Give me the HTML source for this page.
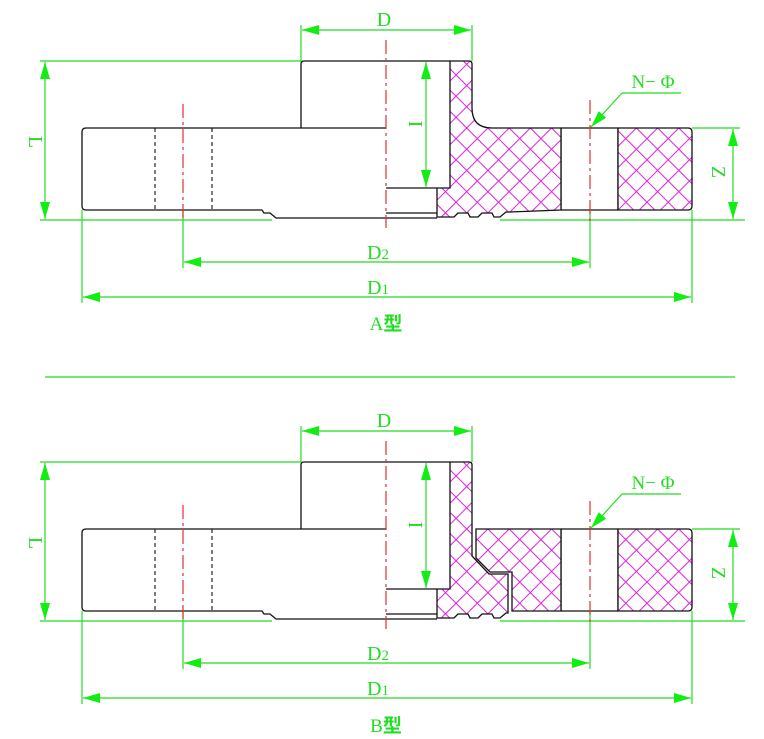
<!DOCTYPE html>
<html><head><meta charset="utf-8"><style>
html,body{margin:0;padding:0;background:#fff;}
svg{display:block;}
text{font-family:"Liberation Serif","Noto Serif CJK SC",serif;fill:#22dd22;}
</style></head><body>
<svg width="764" height="739" viewBox="0 0 764 739" xmlns="http://www.w3.org/2000/svg">
<defs>
<pattern id="h" width="15" height="15" patternUnits="userSpaceOnUse" patternTransform="rotate(45)">
<rect width="15" height="15" fill="#fff"/>
<line x1="0" y1="0" x2="15" y2="0" stroke="#e020e0" stroke-width="2"/>
<line x1="0" y1="0" x2="0" y2="15" stroke="#e020e0" stroke-width="2"/>
</pattern>
<marker id="a" viewBox="0 0 17 10" refX="17" refY="5" markerWidth="17" markerHeight="10" markerUnits="userSpaceOnUse" orient="auto-start-reverse">
<path d="M17,5 L0,0 L0,10 Z" fill="#11ee11"/>
</marker>
<g id="common">
<g stroke="#22dd22" stroke-width="1.2" fill="none">
<line x1="40" y1="61" x2="301" y2="61"/>
<line x1="40" y1="220" x2="272" y2="220"/>
<line x1="500" y1="220" x2="745" y2="220"/>
<line x1="692" y1="128" x2="740" y2="128"/>
<line x1="301" y1="25" x2="301" y2="61"/>
<line x1="472" y1="25" x2="472" y2="61"/>
<line x1="183" y1="210" x2="183" y2="268"/>
<line x1="590" y1="210" x2="590" y2="268"/>
<line x1="82" y1="210" x2="82" y2="303"/>
<line x1="692" y1="210" x2="692" y2="303"/>
<line x1="622" y1="93" x2="681" y2="93"/>
</g>
<g stroke="#22dd22" stroke-width="1.2" fill="none" marker-start="url(#a)" marker-end="url(#a)">
<line x1="45" y1="62" x2="45" y2="219"/>
<line x1="302" y1="30" x2="471" y2="30"/>
<line x1="426" y1="62" x2="426" y2="187"/>
<line x1="184" y1="262" x2="589" y2="262"/>
<line x1="83" y1="297" x2="691" y2="297"/>
<line x1="733" y1="129" x2="733" y2="219"/>
</g>
<line x1="622" y1="93" x2="591" y2="127" stroke="#22dd22" stroke-width="1.2" marker-end="url(#a)"/>
<g stroke="#111" stroke-width="1.3" fill="none">
<path d="M386,128 L86,128 Q82,128 82,132 L82,206 Q82,210 86,210 L262,210 L264,213 L270,213 L276,218 L437,218"/>
<path d="M301,128 L301,64 Q301,61 304,61 L450,61"/>
<path d="M386,213 L437,213"/>
<path d="M386,188 L437,188"/>
<line x1="561" y1="128" x2="561" y2="210"/>
<line x1="618" y1="128" x2="618" y2="210"/>
<line x1="561" y1="128" x2="618" y2="128"/>
<line x1="561" y1="210" x2="618" y2="210"/>
</g>
<path d="M618,128 L688,128 Q692,128 692,132 L692,206 Q692,210 688,210 L618,210 Z" fill="url(#h)" stroke="#111" stroke-width="1.3"/>
<g stroke="#111" stroke-width="1.1" stroke-dasharray="4,3">
<line x1="155" y1="128" x2="155" y2="210"/>
<line x1="212" y1="128" x2="212" y2="210"/>
</g>
<g stroke="#e03030" stroke-width="1.2" stroke-dasharray="14,4,3,4">
<line x1="183" y1="104" x2="183" y2="222"/>
<line x1="590" y1="100" x2="590" y2="222"/>
<line x1="386" y1="40" x2="386" y2="228"/>
</g>
<text x="384" y="26" font-size="20" text-anchor="middle">D</text>
<text x="378" y="259" font-size="20" text-anchor="middle">D<tspan font-size="15">2</tspan></text>
<text x="378" y="294" font-size="20" text-anchor="middle">D<tspan font-size="15">1</tspan></text>
<text x="653" y="88" font-size="19" text-anchor="middle">N− Φ</text>
<text font-size="20" text-anchor="middle" transform="translate(29,142) rotate(90)">L</text>
<text font-size="20" text-anchor="middle" transform="translate(409,124) rotate(90)">I</text>
<text font-size="20" text-anchor="middle" transform="translate(712,172) rotate(90)">Z</text>
</g>
</defs>

<use href="#common"/>
<path d="M450,61 L469,61 Q472,61 472,64 L472,108 Q472,128 492,128 L561,128 L561,210 L510,212 L506,212 L500,217 L494,217 L492,213 L482,213 L478,217 L470,217 L468,213 L458,213 L454,217 L437,217 L437,188 L450,188 Z" fill="url(#h)" stroke="#111" stroke-width="1.3"/>
<text x="386" y="330" font-size="19" text-anchor="middle">A<tspan font-family="Noto Sans CJK SC,sans-serif" font-weight="bold">型</tspan></text>

<line x1="45" y1="377" x2="735" y2="377" stroke="#22dd22" stroke-width="1.3"/>

<g transform="translate(0,401)">
<use href="#common"/>
<path d="M476,128 L561,128 L561,210 L512,210 L512,171 L490,171 L476,157 Z" fill="url(#h)" stroke="#111" stroke-width="1.3"/>
<path d="M450,61 L469,61 Q472,61 472,64 L472,155 L489,173 L508,173 L508,212 L506,212 L500,217 L494,217 L492,213 L482,213 L478,217 L470,217 L468,213 L458,213 L454,217 L437,217 L437,188 L450,188 Z" fill="url(#h)" stroke="#111" stroke-width="1.3"/>
<text x="386" y="331" font-size="19" text-anchor="middle">B<tspan font-family="Noto Sans CJK SC,sans-serif" font-weight="bold">型</tspan></text>
</g>
</svg>
</body></html>
